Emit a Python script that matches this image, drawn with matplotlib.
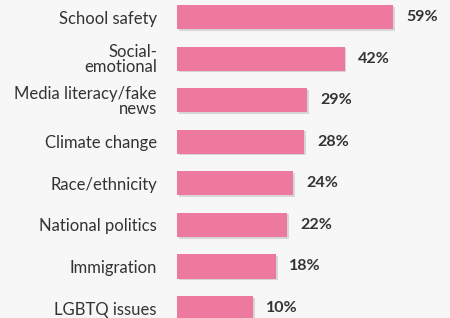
import matplotlib.pyplot as plt
import matplotlib.patheffects as pe

# topics and share of respondents (%)
topics = ["School safety", "Social-\nemotional", "Media literacy/fake\nnews",
          "Climate change", "Race/ethnicity", "National politics",
          "Immigration", "LGBTQ issues"]
values = [59, 42, 29, 28, 24, 22, 18, 10]
value_labels = ["59%", "42%", "29%", "28%", "24%", "22%", "18%", "10%"]

bg = "#f7f7f7"
pink = "#ed7a9e"
xmin, xmax = -16.6, 78.9

fig = plt.figure(figsize=(4.5, 3.18), dpi=100, facecolor=bg)
ax = fig.add_axes([177 / 450, 0, 1 - 177 / 450, 1])
ax.set_facecolor(bg)

pos = list(range(len(topics)))
bars = ax.barh(pos, [v - xmin for v in values], left=xmin, height=0.58, color=pink,
               path_effects=[pe.SimplePatchShadow(offset=(1.2, -1.2), shadow_rgbFace="#999999", alpha=0.35),
                             pe.Normal()])

for p, v, lab in zip(pos, values, value_labels):
    ax.annotate(lab, (v, p), xytext=(9.5, 0), textcoords="offset points",
                va="center", ha="left", fontsize=11.5, fontweight="bold",
                color="#333333", family="Lato")

ax.set_xlim(xmin, xmax)
ax.set_ylim(7.24, -0.41)
ax.set_yticks(pos)
ax.set_yticklabels(topics, fontsize=12, color="#333333", family="Lato",
                   linespacing=0.95)
ax.tick_params(axis="y", length=0, pad=14.4)
ax.set_xticks([])
for s in ax.spines.values():
    s.set_visible(False)

fig.savefig("out.png", dpi=100, facecolor=bg)
